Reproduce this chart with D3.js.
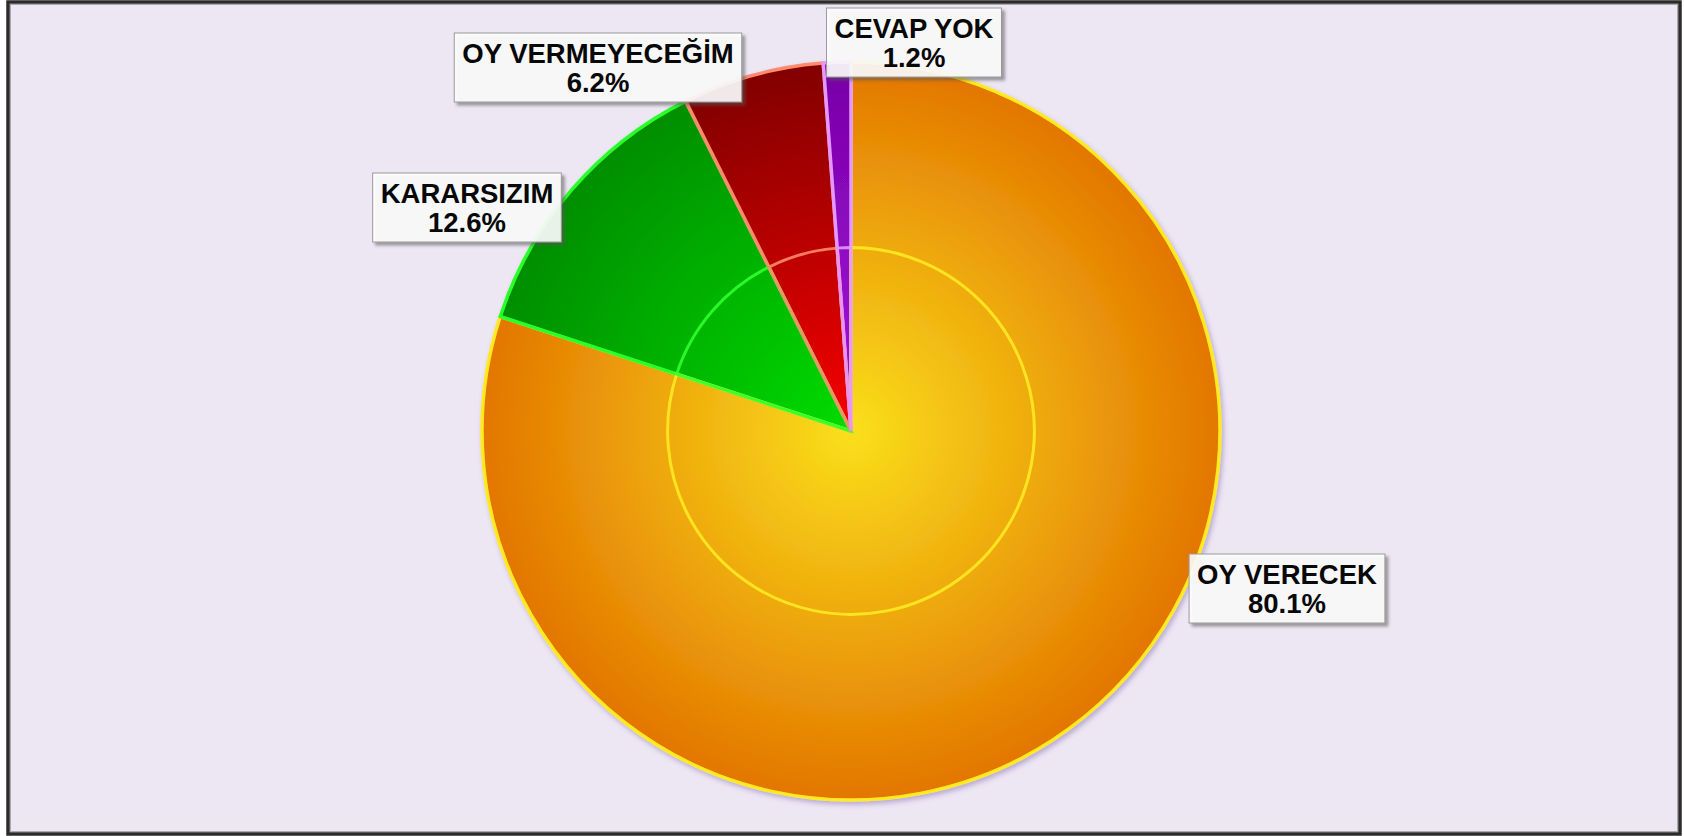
<!DOCTYPE html>
<html>
<head>
<meta charset="utf-8">
<script src="https://cdn.jsdelivr.net/npm/d3@7"></script>
<style>
  body { margin: 0; background: #fff; }
  svg { display: block; }
</style>
</head>
<body>
<svg id="canvas"></svg>
<script>
let width = 1684,
height = 836

// data
let categories = ['OY VERECEK', 'KARARSIZIM', 'OY VERMEYECEĞİM', 'CEVAP YOK']
let values = [80.1, 12.6, 6.2, 1.2]
let labels = ['80.1%', '12.6%', '6.2%', '1.2%']

// colours per slice: [centre, edge, stroke]
let colors = [
    ['#fadf1c', '#e37600', '#ffea22'],
    ['#00dc00', '#008e00', '#2cff2c'],
    ['#f80000', '#820000', '#ff8a6c'],
    ['#a414dc', '#7800a6', '#e596ff']
]

// where the label boxes sit (top-centre, relative to pie centre)
let labelAnchor = [[436, 123], [-384, -258], [-253, -398], [63, -423]]

let cx = 851, cy = 431, radius = 369

let canvas = d3.select('#canvas')
.attr('width', width)
.attr('height', height)

let defs = canvas.append('defs')

// gradients live in the pie group's space, so centre is 0,0
colors.forEach((c, i) => {
    let g = defs.append('radialGradient')
    .attr('id', 'grad' + i)
    .attr('gradientUnits', 'userSpaceOnUse')
    .attr('cx', 0).attr('cy', 0).attr('r', radius)
    g.append('stop').attr('offset', '0%').attr('stop-color', c[0])
    g.append('stop').attr('offset', '100%').attr('stop-color', c[1])
})

let pieShadow = defs.append('filter').attr('id', 'pieShadow')
.attr('x', '-10%').attr('y', '-10%').attr('width', '120%').attr('height', '120%')
pieShadow.append('feDropShadow')
.attr('dx', 2).attr('dy', 3).attr('stdDeviation', 2.5)
.attr('flood-color', '#7a60a8').attr('flood-opacity', 0.45)

let boxShadow = defs.append('filter').attr('id', 'boxShadow')
.attr('x', '-10%').attr('y', '-20%').attr('width', '130%').attr('height', '150%')
boxShadow.append('feDropShadow')
.attr('dx', 3).attr('dy', 3).attr('stdDeviation', 1.5)
.attr('flood-color', '#555').attr('flood-opacity', 0.6)

// background + frame
canvas.append('rect')
.attr('x', 8).attr('y', 2)
.attr('width', 1672).attr('height', 832)
.attr('fill', '#ede6f3')
.attr('stroke', '#2b2b2b')
.attr('stroke-width', 3.5)

canvas.append('rect')
.attr('x', 10.5).attr('y', 4.5)
.attr('width', 1667).attr('height', 827)
.attr('fill', 'none')
.attr('stroke', '#aaa')
.attr('stroke-width', 1)

let pie = d3.pie().sort(null).value((d) => d)
let arcs = pie(values)

let outer = d3.arc().innerRadius(0).outerRadius(radius)
let inner = d3.arc().innerRadius(0).outerRadius(radius * 0.497)

let g = canvas.append('g')
.attr('transform', `translate(${cx}, ${cy})`)

g.append('g')
.attr('filter', 'url(#pieShadow)')
.selectAll('path')
.data(arcs)
.join('path')
.attr('aria-label', (d, i) => categories[i])
.attr('d', outer)
.attr('fill', (d, i) => `url(#grad${i})`)
.attr('stroke', (d, i) => colors[i][2])
.attr('stroke-width', 3.5)
.attr('stroke-linejoin', 'round')

g.append('g')
.selectAll('path')
.data(arcs)
.join('path')
.attr('d', inner)
.attr('fill', 'none')
.attr('stroke', (d, i) => colors[i][2])
.attr('stroke-width', 3)
.attr('stroke-opacity', 0.9)

// labels
let lab = g.append('g')
.selectAll('g')
.data(categories)
.join('g')
.attr('transform', (d, i) => `translate(${labelAnchor[i][0]}, ${labelAnchor[i][1]})`)

let box = lab.append('rect')
.attr('fill', '#fff')
.attr('fill-opacity', 0.88)
.attr('stroke', '#9a9a9a')
.attr('stroke-width', 1)
.attr('filter', 'url(#boxShadow)')

let t1 = lab.append('text')
.attr('text-anchor', 'middle')
.attr('y', 30)
.attr('font-family', 'Liberation Sans, Arial, sans-serif')
.attr('font-weight', 'bold')
.attr('font-size', 27.5)
.attr('fill', '#080808')
.text((d) => d)

lab.append('text')
.attr('text-anchor', 'middle')
.attr('y', 59)
.attr('font-family', 'Liberation Sans, Arial, sans-serif')
.attr('font-weight', 'bold')
.attr('font-size', 27.5)
.attr('fill', '#080808')
.text((d, i) => labels[i])

box.each(function (d, i) {
    let w = t1.nodes()[i].getComputedTextLength() + 16
    d3.select(this)
    .attr('x', -w / 2).attr('y', 0)
    .attr('width', w).attr('height', 69)
})
</script>
</body>
</html>
